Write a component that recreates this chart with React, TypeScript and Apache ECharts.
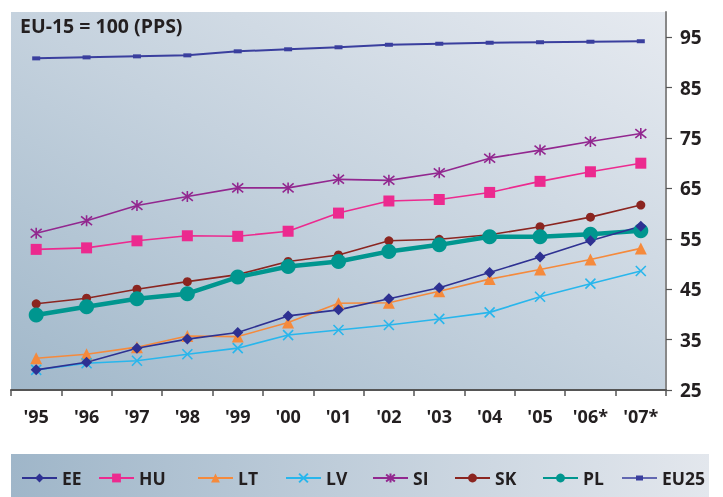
import React, { useEffect, useRef } from "react";
import * as echarts from "echarts";

const years = ["'95", "'96", "'97", "'98", "'99", "'00", "'01", "'02", "'03", "'04", "'05", "'06*", "'07*"];
const yTicks = [25, 35, 45, 55, 65, 75, 85, 95];

const EE = [29.0, 30.5, 33.3, 35.1, 36.4, 39.7, 40.9, 43.1, 45.3, 48.3, 51.4, 54.6, 57.5];
const HU = [52.9, 53.2, 54.6, 55.6, 55.5, 56.5, 60.1, 62.5, 62.8, 64.2, 66.4, 68.3, 70.0];
const LT = [31.3, 32.1, 33.5, 35.7, 35.6, 38.4, 42.2, 42.3, 44.6, 47.0, 48.9, 50.9, 53.1];
const LV = [29.0, 30.3, 30.8, 32.1, 33.3, 35.9, 36.9, 37.9, 39.1, 40.4, 43.5, 46.1, 48.6];
const SI = [56.1, 58.6, 61.6, 63.4, 65.1, 65.1, 66.8, 66.6, 68.1, 71.0, 72.6, 74.3, 75.9];
const SK = [42.1, 43.2, 45.0, 46.5, 47.9, 50.5, 51.8, 54.6, 54.9, 55.8, 57.4, 59.3, 61.7];
const PL = [39.9, 41.5, 43.1, 44.1, 47.4, 49.5, 50.5, 52.5, 53.8, 55.4, 55.4, 55.9, 56.6];
const EU25 = [90.8, 91.0, 91.2, 91.4, 92.2, 92.6, 93.0, 93.5, 93.7, 93.9, 94.0, 94.1, 94.2];

const FONT = "'Open Sans', 'Noto Sans', sans-serif";
const TEXT = "#231f20";

const CROSS = "path://M0,0L10,10M10,0L0,10";
const STAR = "path://M5,0L5,10M1,1L9,9M9,1L1,9";
const EU_ICON = "path://M0,1.8h35v1.5h-35z M14,0h7v5h-7z";

export default function App() {
  const ref = useRef<HTMLDivElement>(null);
  useEffect(() => {
    if (!ref.current) return;
    const chart = echarts.init(ref.current, null, { renderer: "svg" });

    const mk = (
      name: string,
      data: number[],
      color: string,
      symbol: string,
      symbolSize: any,
      lineWidth: number,
      stroke = false
    ) => ({
      name,
      type: "line",
      data,
      symbol,
      symbolSize,
      showSymbol: true,
      lineStyle: { color, width: lineWidth },
      itemStyle: stroke
        ? { color: "rgba(0,0,0,0)", borderColor: color, borderWidth: 1.6 }
        : { color, borderWidth: 0 },
      emphasis: { disabled: true },
    });

    const legendPos: [string, number][] = [
      ["EE", 16],
      ["HU", 93],
      ["LT", 192],
      ["LV", 280],
      ["SI", 367],
      ["SK", 449],
      ["PL", 537],
    ];

    const legendText = { fontFamily: FONT, fontWeight: "bold", fontSize: 17.5, color: TEXT };

    chart.setOption({
      animation: false,
      graphic: [
        {
          type: "rect",
          z: -10,
          shape: { x: 11, y: 454, width: 698, height: 43 },
          style: {
            fill: new echarts.graphic.LinearGradient(0, 0, 1, 0, [
              { offset: 0, color: "#9fb6c9" },
              { offset: 1, color: "#e3e7ed" },
            ]),
          },
        },
        {
          type: "text",
          left: 20,
          top: 15,
          style: {
            text: "EU-15 = 100 (PPS)",
            font: `bold 19.5px ${FONT}`,
            fill: TEXT,
          },
        },
      ],
      grid: {
        left: 11,
        top: 12,
        right: 57,
        bottom: 107,
        show: true,
        borderWidth: 0,
        backgroundColor: new echarts.graphic.LinearGradient(0, 1, 1, 0, [
          { offset: 0, color: "#a1b8ca" },
          { offset: 0.5, color: "#c5d2de" },
          { offset: 1, color: "#e6eaf0" },
        ]),
      },
      legend: [
        ...legendPos.map(([name, left]) => ({
          data: [name],
          left,
          top: 464,
          itemWidth: 35,
          itemHeight: 11,
          itemGap: 0,
          selectedMode: false,
          textStyle: legendText,
        })),
        {
          data: [{ name: "EU25", icon: EU_ICON }],
          left: 617,
          top: 464,
          itemWidth: 35,
          itemHeight: 5,
          itemGap: 0,
          selectedMode: false,
          textStyle: legendText,
        },
      ],
      xAxis: {
        type: "category",
        data: years,
        boundaryGap: true,
        axisLine: { show: true, lineStyle: { color: "#555", width: 2 } },
        axisTick: { show: true, length: 6, lineStyle: { color: "#555", width: 1.5 } },
        axisLabel: {
          margin: 17,
          fontFamily: FONT,
          fontWeight: "bold",
          fontSize: 18,
          color: TEXT,
        },
        splitLine: { show: false },
      },
      yAxis: {
        type: "value",
        position: "right",
        min: 25,
        max: 100,
        interval: 10,
        axisLine: { show: true, lineStyle: { color: "#888", width: 2 } },
        axisTick: {
          show: true,
          length: 6,
          inside: false,
          lineStyle: { color: "#555", width: 1.2 },
          customValues: yTicks,
        },
        axisLabel: {
          margin: 14,
          fontFamily: FONT,
          fontWeight: "bold",
          fontSize: 19,
          color: TEXT,
          customValues: yTicks,
        },
        splitLine: { show: false },
      },
      series: [
        mk("EU25", EU25, "#3a3f9e", "rect", [8, 4], 2),
        mk("SI", SI, "#92278f", STAR, 11, 1.6, true),
        mk("HU", HU, "#ec2a8f", "rect", 11, 1.6),
        mk("SK", SK, "#8b2520", "circle", 9, 1.6),
        mk("PL", PL, "#00968f", "circle", 15, 4.5),
        mk("LT", LT, "#f58a3c", "triangle", 12, 1.6),
        mk("LV", LV, "#28b6ec", CROSS, 10, 1.6, true),
        mk("EE", EE, "#2e3192", "diamond", 11, 1.6),
      ],
    });
    return () => chart.dispose();
  }, []);
  return (
    <div
      ref={ref}
      style={{ position: "fixed", left: 0, top: 0, width: 723, height: 497 }}
    />
  );
}
